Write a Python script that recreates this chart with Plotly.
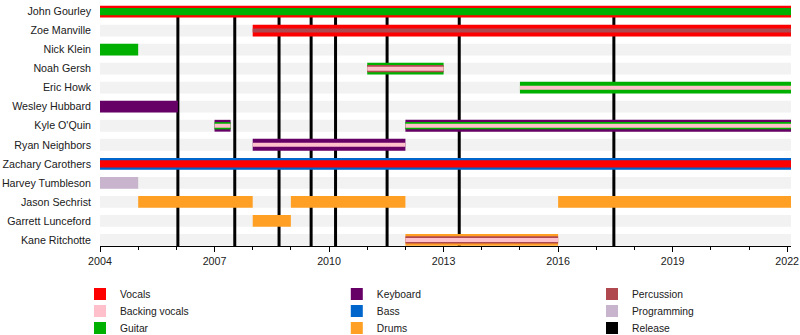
import plotly.graph_objects as go

members = ["John Gourley", "Zoe Manville", "Nick Klein", "Noah Gersh", "Eric Howk",
           "Wesley Hubbard", "Kyle O'Quin", "Ryan Neighbors", "Zachary Carothers",
           "Harvey Tumbleson", "Jason Sechrist", "Garrett Lunceford", "Kane Ritchotte"]

releases = [2006.04, 2007.53, 2008.69, 2009.53, 2010.17, 2011.52, 2013.41, 2017.46]

START = 2004.0
END = 2022.1

roles = ["Vocals", "Backing vocals", "Guitar", "Keyboard", "Bass", "Drums",
         "Percussion", "Programming", "Release"]
role_colors = ["#FF0000", "#FFC0CB", "#00B000", "#660066", "#0066CC", "#FFA024",
               "#B04850", "#C8B4CC", "#000000"]

# main role of each period
primary = [
    ("John Gourley", "Vocals", 2004.0, END),
    ("Zoe Manville", "Vocals", 2008.0, END),
    ("Nick Klein", "Guitar", 2004.0, 2005.0),
    ("Noah Gersh", "Guitar", 2011.0, 2013.0),
    ("Eric Howk", "Guitar", 2015.0, END),
    ("Wesley Hubbard", "Keyboard", 2004.0, 2006.04),
    ("Kyle O'Quin", "Keyboard", 2007.0, 2007.42),
    ("Kyle O'Quin", "Keyboard", 2012.0, END),
    ("Ryan Neighbors", "Keyboard", 2008.0, 2012.0),
    ("Zachary Carothers", "Bass", 2004.0, END),
    ("Harvey Tumbleson", "Programming", 2004.0, 2005.0),
    ("Jason Sechrist", "Drums", 2005.0, 2008.0),
    ("Jason Sechrist", "Drums", 2009.0, 2012.0),
    ("Jason Sechrist", "Drums", 2016.0, END),
    ("Garrett Lunceford", "Drums", 2008.0, 2009.0),
    ("Kane Ritchotte", "Drums", 2012.0, 2016.0),
]
# second role
secondary = [
    ("John Gourley", "Guitar", 2004.0, END),
    ("Noah Gersh", "Percussion", 2011.0, 2013.0),
    ("Kyle O'Quin", "Guitar", 2007.0, 2007.42),
    ("Kyle O'Quin", "Guitar", 2012.0, END),
    ("Zachary Carothers", "Vocals", 2004.0, END),
    ("Kane Ritchotte", "Percussion", 2012.0, 2016.0),
]
# third role
tertiary = [
    ("Zoe Manville", "Percussion", 2008.0, END),
    ("Noah Gersh", "Backing vocals", 2011.0, 2013.0),
    ("Eric Howk", "Backing vocals", 2015.0, END),
    ("Kyle O'Quin", "Backing vocals", 2007.0, 2007.42),
    ("Kyle O'Quin", "Backing vocals", 2012.0, END),
    ("Ryan Neighbors", "Backing vocals", 2008.0, 2012.0),
    ("Kane Ritchotte", "Backing vocals", 2012.0, 2016.0),
]

color_of = dict(zip(roles, role_colors))
row_of = {m: i for i, m in enumerate(members)}
layer_widths = [0.62, 0.38, 0.21]

fig = go.Figure()

for layer, width in zip([primary, secondary, tertiary], layer_widths):
    for role in roles:
        items = [p for p in layer if p[1] == role]
        if not items:
            continue
        fig.add_trace(go.Bar(
            orientation="h",
            y=[row_of[p[0]] for p in items],
            base=[p[2] for p in items],
            x=[p[3] - p[2] for p in items],
            width=[width] * len(items),
            marker=dict(color=color_of[role], line=dict(width=0)),
            showlegend=False,
            hoverinfo="skip",
        ))

# one single-entry legend per role, arranged in 3 columns x 3 rows
legend_font = dict(family="Liberation Sans, Arial, sans-serif", size=10.3, color="#202020")
col_x = [0.1, 0.421, 0.74]
row_y = [0.1654, 0.1146, 0.0639]
legend_layouts = {}
for k, role in enumerate(roles):
    lid = "legend" if k == 0 else f"legend{k + 1}"
    fig.add_trace(go.Bar(
        orientation="h", x=[None], y=[None], name=role,
        marker=dict(color=color_of[role], line=dict(width=0)),
        legend=lid, showlegend=True,
    ))
    legend_layouts[lid] = dict(
        x=col_x[k // 3], y=row_y[k % 3], xref="container", yref="container",
        xanchor="left", yanchor="top", orientation="v",
        font=legend_font, bgcolor="rgba(0,0,0,0)")

shapes = []
for i in range(len(members)):
    shapes.append(dict(type="rect", xref="x", yref="y", x0=START, x1=END,
                       y0=i - 0.31, y1=i + 0.31, fillcolor="#F2F2F2",
                       line=dict(width=0), layer="below"))
for r in releases:
    shapes.append(dict(type="line", xref="x", yref="y", x0=r, x1=r,
                       y0=0, y1=len(members) - 0.68,
                       line=dict(color="black", width=3), layer="below"))

font = dict(family="Liberation Sans, Arial, sans-serif", size=10.7, color="#202020")

fig.update_layout(
    width=800, height=335,
    margin=dict(l=100, r=9, t=3, b=89, autoexpand=False),
    paper_bgcolor="white", plot_bgcolor="white",
    barmode="overlay",
    font=font,
    shapes=shapes,
    xaxis=dict(range=[START, END], tickvals=list(range(2004, 2023, 3)),
               ticks="outside", ticklen=5, tickcolor="black", tickwidth=1,
               minor=dict(dtick=1, tick0=2004, ticks="outside", ticklen=3,
                          tickcolor="black", showgrid=False),
               showline=True, linecolor="black", linewidth=1,
               showgrid=False, zeroline=False, fixedrange=True, automargin=False),
    yaxis=dict(range=[len(members) - 0.68, -0.45],
               tickvals=list(range(len(members))), ticktext=members,
               ticks="", showgrid=False, zeroline=False, showline=False,
               ticklabelstandoff=8, fixedrange=True, automargin=False),
    **legend_layouts,
)

fig.write_html("out.html")
